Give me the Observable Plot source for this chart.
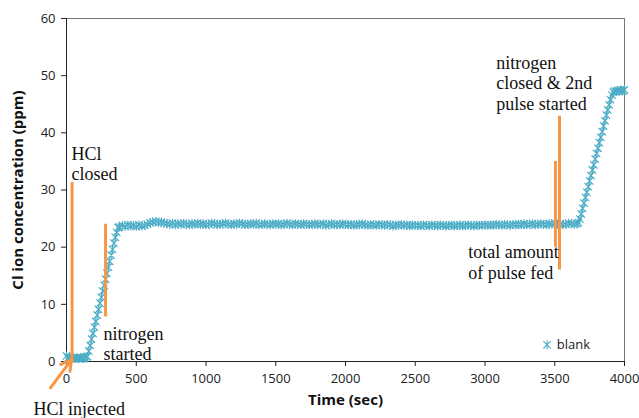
<!DOCTYPE html>
<html><head><meta charset="utf-8">
<script src="https://cdn.jsdelivr.net/npm/d3@7"></script>
<script src="https://cdn.jsdelivr.net/npm/@observablehq/plot@0.6"></script>
<style>
body{margin:0;background:#fff;}
#chart svg{font-family:"Open Sans",sans-serif;}
</style>
</head><body><div id="chart"></div>
<script>
// Sample timing of each segment (seconds): start, step
const baselineStart = 0,    baselineStep = 10;
const ramp1Start    = 150,  ramp1Step    = 10;
const plateauStart  = 380,  plateauStep  = 20;
const ramp2Start    = 3660, ramp2Step    = 10;

// Cl ion concentration (ppm)
const baselineValues = [1.0,0.6,0.7,0.5,0.6,0.7,0.5,0.6,0.6,0.5,0.7,0.6,0.5,0.6,0.8];
const ramp1Values = [0.9,1.8,2.8,3.9,4.9,6.0,7.0,8.1,9.1,10.2,11.2,12.3,13.3,14.4,15.4,16.5,17.5,18.6,19.6,20.7,21.7,22.6,23.4];
const plateauValues = [
 23.5,23.8,23.6,23.9,23.7,23.8,23.6,23.9,23.7,23.8,24.0,24.3,
 24.4,24.5,24.3,24.4,24.2,
 24.1,24.0,24.2,23.9,24.1,24.0,24.2,24.0,23.9,24.1,24.0,24.2,24.0,24.1,23.9,
 24.0,24.2,24.1,23.9,24.0,24.1,24.2,24.0,23.9,24.1,24.0,24.2,24.1,23.9,24.0,24.1,24.0,24.2,23.9,24.0,24.1,24.0,23.9,24.1,24.0,
 24.1,23.9,24.0,24.2,24.0,23.9,24.1,24.0,23.9,24.1,24.0,23.9,24.0,24.1,23.9,24.0,24.1,23.8,24.0,24.1,23.9,24.0,23.9,24.1,24.0,
 23.9,24.0,23.8,24.0,23.9,24.1,23.9,23.8,24.0,23.9,23.8,24.0,23.9,23.8,24.0,23.9,23.7,23.9,23.8,24.0,23.8,23.9,23.7,23.9,23.8,
 23.8,23.7,23.9,23.8,23.7,23.9,23.8,23.7,23.9,23.8,23.7,23.8,23.9,23.7,23.8,23.9,23.7,23.8,23.9,23.8,23.7,23.9,23.8,23.8,23.9,
 23.8,23.9,23.8,24.0,23.9,23.8,24.0,23.9,23.8,24.0,23.9,24.0,23.9,24.1,23.9,24.0,24.1,23.9,24.0,24.1,24.0,23.9,24.1,24.0,24.2,24.0,24.1,23.9,24.0,24.2,24.1,24.0
];
const ramp2Values = [24.1,24.3,24.9,25.8,26.8,27.7,28.7,29.6,30.6,31.6,32.5,33.5,34.4,35.4,36.4,37.3,38.3,39.2,40.2,41.2,42.1,43.1,44.0,44.9,45.8,46.6,47.1,47.3,47.2,47.4,47.3,47.5,47.3,47.4,47.5];

const seriesName = "blank";
const xTicks = [0,500,1000,1500,2000,2500,3000,3500,4000];
const yTicks = [0,10,20,30,40,50,60];

// Event markers (orange rules): time, bottom, top
const eventX  = [40, 280, 3505, 3534];
const eventY1 = [-0.3, 7.8, 20, 16];
const eventY2 = [31.3, 24, 35, 42.9];

// Annotation texts and anchors
const noteTexts = ["HCl\nclosed", "nitrogen\nstarted", "HCl injected", "nitrogen\nclosed & 2nd\npulse started", "total amount\nof pulse fed"];
const noteX = [36, 265, -237, 3080, 2880];
const noteY = [37.8, 6.35, -6.9, 53.7, 20.6];

// Arrow for "HCl injected"
const arrowFrom = [-115, -4.6];
const arrowTo = [35, 0.3];

function seg(start, step, vals){ return vals.map((v,i)=>({t: start + i*step, c: v})); }
const data = [
  ...seg(baselineStart, baselineStep, baselineValues),
  ...seg(ramp1Start, ramp1Step, ramp1Values),
  ...seg(plateauStart, plateauStep, plateauValues),
  ...seg(ramp2Start, ramp2Step, ramp2Values)
];
const events = eventX.map((x,i)=>({x, y1: eventY1[i], y2: eventY2[i]}));
const notes = noteTexts.map((s,i)=>({s, x: noteX[i], y: noteY[i]}));

const blue = "#4bacc6", orange = "#f79646";

// X with a vertical stroke (Excel "star" marker)
const starMarker = {
  draw(ctx, size) {
    const r = Math.sqrt(size / Math.PI);
    const d = r * 0.85;
    ctx.moveTo(-d, -d); ctx.lineTo(d, d);
    ctx.moveTo(-d, d); ctx.lineTo(d, -d);
    ctx.moveTo(0, -r); ctx.lineTo(0, r);
  }
};

const chart = Plot.plot({
  width: 639, height: 418,
  marginLeft: 66, marginRight: 15, marginTop: 18, marginBottom: 57,
  x: {domain: [0, 4000], ticks: xTicks},
  y: {domain: [0, 60], ticks: yTicks},
  style: {fontSize: "13px", color: "#222"},
  marks: [
    Plot.frame({stroke: "#777"}),
    Plot.axisX({ticks: xTicks, tickFormat: d3.format("d"), tickSize: 5, tickPadding: 7, label: null, fontSize: 13}),
    Plot.axisY({ticks: yTicks, tickFormat: d3.format("d"), tickSize: 5, tickPadding: 6, label: null, fontSize: 13}),
    Plot.ruleY([0], {stroke: "#222"}),
    Plot.ruleX([0], {stroke: "#222"}),
    Plot.dot(data, {x: "t", y: "c", symbol: starMarker, r: 4.4, stroke: blue, strokeWidth: 1.1}),
    Plot.ruleX(events, {x: "x", y1: "y1", y2: "y2", stroke: orange, strokeWidth: 3}),
    Plot.arrow([0], {x1: () => arrowFrom[0], y1: () => arrowFrom[1], x2: () => arrowTo[0], y2: () => arrowTo[1], stroke: orange, strokeWidth: 3, headLength: 12}),
    Plot.text(notes, {x: "x", y: "y", text: "s", textAnchor: "start", lineAnchor: "top", lineHeight: 1.13, fontFamily: "Liberation Serif", fontSize: 18, fill: "#111"}),
    Plot.dot([seriesName], {x: () => 3445, y: () => 2.9, symbol: starMarker, r: 4.4, stroke: blue, strokeWidth: 1.1}),
    Plot.text([seriesName], {x: () => 3515, y: () => 2.9, text: d => d, textAnchor: "start", fontSize: 13, fill: "#222"}),
    Plot.text(["Time (sec)"], {frameAnchor: "bottom", dy: 43, fontWeight: "bold", fontSize: 15, fill: "#111"}),
    Plot.text(["Cl ion concentration (ppm)"], {frameAnchor: "left", dx: -48, rotate: -90, textAnchor: "middle", fontWeight: "bold", fontSize: 15, fill: "#111"})
  ]
});
document.getElementById("chart").appendChild(chart);
</script>
</body></html>
